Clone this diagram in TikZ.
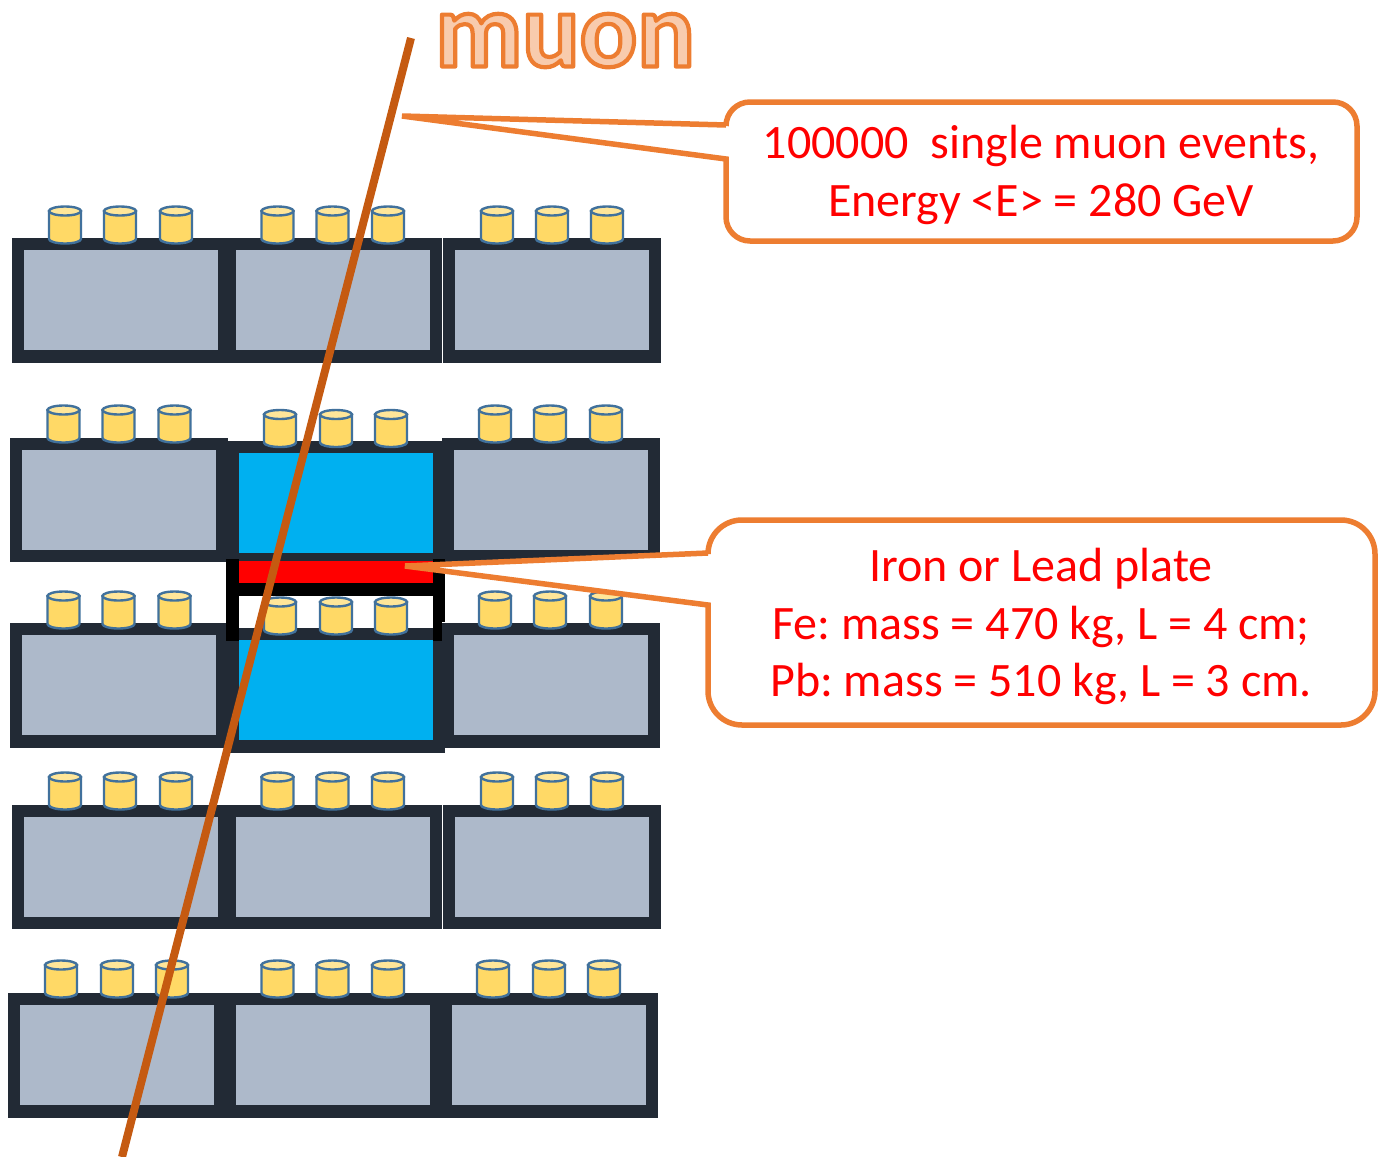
\documentclass[tikz,border=0pt]{standalone}
\usepackage{fontspec}
\setmainfont{Carlito}
\frenchspacing
\definecolor{brickdark}{HTML}{222A35}
\definecolor{brickgrey}{HTML}{ADB9CA}
\definecolor{brickblue}{HTML}{00B0F0}
\definecolor{pmtfill}{HTML}{FFD966}
\definecolor{pmttop}{HTML}{FFE699}
\definecolor{pmtline}{HTML}{41719C}
\definecolor{muonline}{HTML}{C55A11}
\definecolor{calloutline}{HTML}{ED7D31}
\definecolor{muonfill}{HTML}{F8CBAD}
\tikzset{
  pmtbody/.style={fill=pmtfill,draw=pmtline,line width=2.4pt},
  pmtcap/.style={fill=pmttop,draw=pmtline,line width=2.4pt},
  callout/.style={fill=white,draw=calloutline,line width=5.5pt,line join=miter},
  callouttext/.style={text=red,font=\fontsize{48}{57.5}\selectfont,align=center,inner sep=0pt},
  muonpath/.style={draw=muonline,line width=8pt},
  framebar/.style={fill=black},
}
% brick: outer left, outer top, inner fill colour
\newcommand{\brick}[3]{%
  \fill[brickdark] (#1,#2) rectangle ++(218,124.5);
  \fill[#3] ({#1+11.5},{#2+12.3}) rectangle ++(194.5,100);
}
% photomultiplier: centre x, top y
\newcommand{\pmt}[2]{%
  \path[pmtbody] ({#1-16},{#2+5}) -- ({#1-16},{#2+33})
    .. controls ({#1-16},{#2+35.5}) and ({#1-8.8},{#2+37.5}) .. (#1,{#2+37.5})
    .. controls ({#1+8.8},{#2+37.5}) and ({#1+16},{#2+35.5}) .. ({#1+16},{#2+33})
    -- ({#1+16},{#2+5}) -- cycle;
  \path[pmtcap] (#1,{#2+5}) ellipse[x radius=16,y radius=4.5];
}
\newcommand{\pmtrow}[4]{\pmt{#1}{#4}\pmt{#2}{#4}\pmt{#3}{#4}}
\begin{document}
\begin{tikzpicture}[x=1pt,y=-1pt]
\useasboundingbox (0,0) rectangle (1385,1157);
% row 1
\brick{12}{238}{brickgrey}\brick{224}{238}{brickgrey}\brick{443}{238}{brickgrey}
\pmtrow{65}{120}{176}{206}\pmtrow{277.5}{332.5}{388}{206}\pmtrow{497}{552}{607}{206}
% row 2
\brick{10}{437.5}{brickgrey}\brick{442}{437.5}{brickgrey}
\brick{227}{441}{brickblue}
\pmtrow{63.5}{118.5}{174.5}{405}\pmtrow{280}{336}{391}{409.5}\pmtrow{495}{550}{606}{405}
% row 3
\brick{10}{623}{brickgrey}\brick{442}{623}{brickgrey}
\brick{227}{628}{brickblue}
\pmtrow{63.5}{118.5}{174.5}{591}\pmtrow{495}{550}{606}{591}
% plate and its frame
\fill[white] (239,596) rectangle (433,628);
\pmtrow{280}{336}{391}{597}
\fill[red] (239,561) rectangle (433,583);
\fill[framebar] (226,559) rectangle (239,641);
\fill[framebar] (433,559) rectangle (445,622);
\fill[framebar] (433,622) rectangle (442,641);
\fill[framebar] (239,583) rectangle (433,596);
% row 4
\brick{12}{804.5}{brickgrey}\brick{224}{804.5}{brickgrey}\brick{443}{804.5}{brickgrey}
\pmtrow{65}{120}{176}{772}\pmtrow{277.5}{332.5}{388}{772}\pmtrow{497}{552}{607}{772}
% row 5
\brick{8}{993}{brickgrey}\brick{224}{993}{brickgrey}\brick{440}{993}{brickgrey}
\pmtrow{61}{117}{172}{960}\pmtrow{277.5}{332.5}{388}{960}\pmtrow{493}{549}{604}{960}
% muon
\coordinate (muontop) at (411,38);
\coordinate (muonbottom) at (122,1157);
\draw[muonpath] (muontop) -- (muonbottom);
\node[anchor=base,inner sep=0pt,text=muonfill,font=\fontsize{107}{107}\bfseries\selectfont] (muonlabel) at (565,66.5) {\special{pdf:code 2 Tr 4.2 w 0.929 0.490 0.192 RG 1 j}muon\special{pdf:code 0 Tr}};
% callouts
\coordinate (tipone) at (402,116);
\draw[callout] (tipone) -- (726,125) [rounded corners=24pt] -- (726,102) -- (1357,102) -- (1357,241) -- (726,241) [sharp corners] -- (726,159) -- cycle;
\node[callouttext] (textone) at (1041,175) {100000\ \ single muon events,\\Energy <E> = 280 GeV};
\coordinate (tiptwo) at (405,566);
\draw[callout] (tiptwo) -- (708,553) [rounded corners=34pt] -- (708,520) -- (1375,520) -- (1375,725) -- (708,725) [sharp corners] -- (708,605) -- cycle;
\node[callouttext] (texttwo) at (1041,626.5) {Iron or Lead plate\\Fe: mass = 470 kg, L = 4 cm;\\Pb: mass = 510 kg, L = 3 cm.};
\end{tikzpicture}
\end{document}
